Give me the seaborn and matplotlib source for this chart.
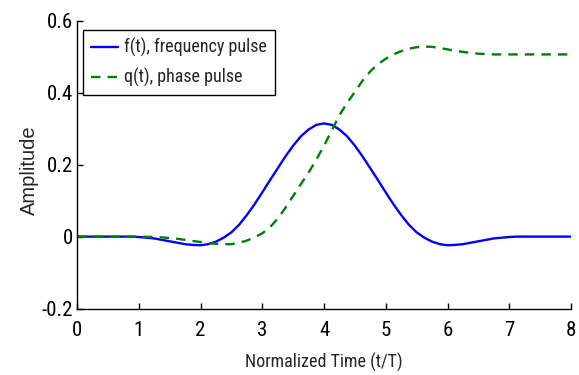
import numpy as np
import pandas as pd
import matplotlib
matplotlib.use("Agg")
import matplotlib.pyplot as plt
import seaborn as sns

# ---- data ----
t = [0.0, 0.125, 0.25, 0.375, 0.5, 0.625, 0.75, 0.875,
     1.0, 1.125, 1.25, 1.375, 1.5, 1.625, 1.75, 1.875,
     2.0, 2.125, 2.25, 2.375, 2.5, 2.625, 2.75, 2.875,
     3.0, 3.125, 3.25, 3.375, 3.5, 3.625, 3.75, 3.875,
     4.0, 4.125, 4.25, 4.375, 4.5, 4.625, 4.75, 4.875,
     5.0, 5.125, 5.25, 5.375, 5.5, 5.625, 5.75, 5.875,
     6.0, 6.125, 6.25, 6.375, 6.5, 6.625, 6.75, 6.875,
     7.0, 7.125, 7.25, 7.375, 7.5, 7.625, 7.75, 7.875, 8.0]
f_pulse = [0.0, 0.0, 0.0, 0.0, 0.0, 0.0, 0.0, 0.0,
           -0.001, -0.003, -0.005, -0.009, -0.013, -0.017, -0.021, -0.023,
           -0.024, -0.021, -0.014, -0.003, 0.012, 0.033, 0.060, 0.090,
           0.123, 0.157, 0.190, 0.223, 0.253, 0.279, 0.298, 0.311,
           0.315, 0.311, 0.298, 0.279, 0.253, 0.223, 0.190, 0.157,
           0.123, 0.090, 0.060, 0.033, 0.012, -0.003, -0.014, -0.021,
           -0.024, -0.023, -0.021, -0.017, -0.013, -0.009, -0.005, -0.003,
           -0.001, 0.0, 0.0, 0.0, 0.0, 0.0, 0.0, 0.0, 0.0]
q_pulse = [0.0, 0.0, 0.0, 0.0, 0.0, 0.0, 0.0, 0.0,
           0.0, -0.0005, -0.001, -0.002, -0.004, -0.006, -0.009, -0.012,
           -0.015, -0.018, -0.020, -0.021, -0.021, -0.017, -0.011, -0.002,
           0.009, 0.026, 0.050, 0.080, 0.113, 0.146, 0.178, 0.214,
           0.253, 0.295, 0.338, 0.372, 0.403, 0.434, 0.460, 0.480,
           0.495, 0.507, 0.516, 0.523, 0.527, 0.529, 0.528, 0.525,
           0.521, 0.517, 0.514, 0.511, 0.509, 0.508, 0.507, 0.507,
           0.507, 0.507, 0.507, 0.507, 0.507, 0.507, 0.507, 0.507, 0.507]
labels = ["f(t), frequency pulse", "q(t), phase pulse"]
x_ticks = [0, 1, 2, 3, 4, 5, 6, 7, 8]
y_ticks = [-0.2, 0, 0.2, 0.4, 0.6]
y_ticklabels = ["-0.2", "0", "0.2", "0.4", "0.6"]

sns.set_style("ticks")
plt.rcParams["font.family"] = ["Roboto Condensed", "Liberation Sans", "DejaVu Sans"]
plt.rcParams["xtick.direction"] = "in"
plt.rcParams["ytick.direction"] = "in"

df = pd.DataFrame({"t": t, "f": f_pulse, "q": q_pulse})

fig = plt.figure(figsize=(5.79, 3.75), dpi=100)
ax = fig.add_axes([77 / 579, 1 - 308.5 / 375, 494 / 579, 287.5 / 375])

sns.lineplot(data=df, x="t", y="f", color=(0, 0, 1), lw=1.7, ax=ax,
             label=labels[0])
sns.lineplot(data=df, x="t", y="q", color=(0, 0.5, 0), lw=1.7, ax=ax,
             linestyle="--", label=labels[1])
ax.lines[-1].set_dashes([4, 3])

ax.set_xlim(0, 8)
ax.set_ylim(-0.2, 0.6)
ax.set_xticks(x_ticks)
ax.set_xticklabels([str(v) for v in x_ticks])
ax.set_yticks(y_ticks)
ax.set_yticklabels(y_ticklabels)
ax.tick_params(axis="both", direction="in", length=4, width=1, labelsize=15,
               colors="black")
ax.tick_params(axis="x", pad=9)
ax.tick_params(axis="y", pad=3)
for s in ["top", "right"]:
    ax.spines[s].set_visible(False)
for s in ["left", "bottom"]:
    ax.spines[s].set_linewidth(1.0)
    ax.spines[s].set_color("black")

ax.set_xlabel("Normalized Time (t/T)", fontsize=13, labelpad=9)
ax.set_ylabel("Amplitude", fontsize=14.5, family=["Liberation Sans", "DejaVu Sans"])
ax.yaxis.set_label_coords(-0.078, 0.48)

leg = ax.legend(loc="upper left", bbox_to_anchor=(0.012, 0.969), borderaxespad=0,
                fontsize=13, frameon=True, fancybox=False, edgecolor="black",
                framealpha=1, handlelength=1.5, handletextpad=0.3,
                borderpad=0.45, labelspacing=0.6)
leg.get_frame().set_linewidth(1.0)

fig.savefig("out.png", dpi=100)
